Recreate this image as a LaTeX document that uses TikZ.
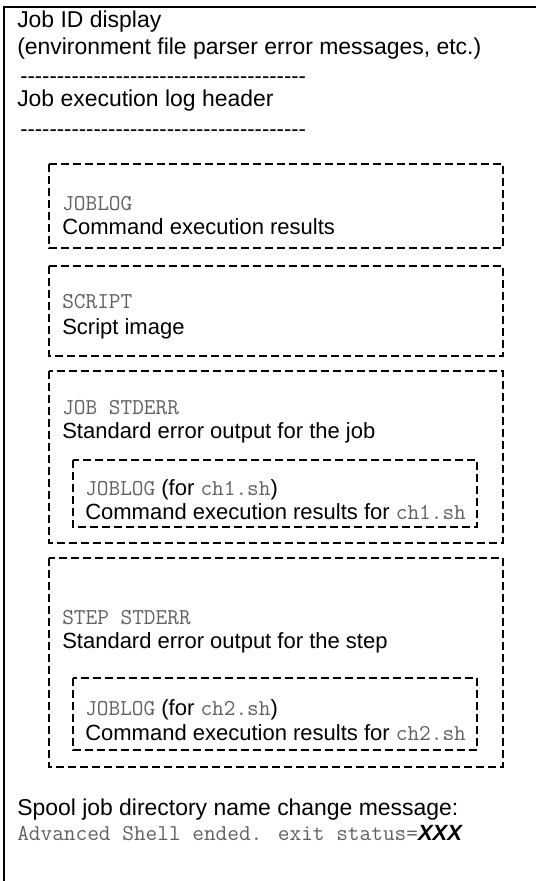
\documentclass[tikz,border=0pt]{standalone}
\usepackage{fontspec}
\setmainfont{Liberation Sans}
\newcommand{\cmdtxt}[1]{{\fontsize{17}{19}\ttfamily\color{black!62}#1}}
\newcommand{\hyphrule}{\foreach \i in {1,...,39}{-}}
\begin{document}
\begin{tikzpicture}[x=0.75pt, y=-0.75pt,
    txt/.style={anchor=base west, inner sep=0pt, font=\fontsize{16.5}{19}\selectfont},
    bigtxt/.style={txt, font=\fontsize{17.2}{20}\selectfont},
    dbox/.style={draw, line width=1.1pt, dash pattern=on 6pt off 3pt},
  ]
  \useasboundingbox (0,0) rectangle (536,881);
  % outer frame (only top and left are shown)
  \draw[line width=1.5pt] (4,881) -- (4,7) -- (536,7);

  % header
  \node[bigtxt] (jobid) at (17,28) {Job ID display};
  \node[bigtxt] (envmsg) at (17,55) {(environment file parser error messages, etc.)};
  \node[txt] (rule1) at (20,84) {\hyphrule};
  \node[bigtxt] (loghead) at (17,107) {Job execution log header};
  \node[txt] (rule2) at (20,136) {\hyphrule};

  % JOBLOG
  \draw[dbox] (49,164) rectangle (503,248);
  \node[txt] (joblog) at (62,210) {\cmdtxt{JOBLOG}};
  \node[txt] (joblogtxt) at (62,234) {Command execution results};

  % SCRIPT
  \draw[dbox] (49,266) rectangle (503,356);
  \node[txt] (script) at (62,308) {\cmdtxt{SCRIPT}};
  \node[txt] (scripttxt) at (62,334) {Script image};

  % JOB STDERR
  \draw[dbox] (49,371) rectangle (503,543);
  \node[txt] (jobstderr) at (62,414) {\cmdtxt{JOB STDERR}};
  \node[txt] (jobstderrtxt) at (62,438) {Standard error output for the job};
  \draw[dbox] (73,460) rectangle (477,527);
  \node[txt] (joblogA) at (85,495) {\cmdtxt{JOBLOG} (for \cmdtxt{ch1.sh})};
  \node[txt] (joblogAtxt) at (85,519) {Command execution results for \cmdtxt{ch1.sh}};

  % STEP STDERR
  \draw[dbox] (49,558) rectangle (503,767);
  \node[txt] (stepstderr) at (62,624) {\cmdtxt{STEP STDERR}};
  \node[txt] (stepstderrtxt) at (62,648) {Standard error output for the step};
  \draw[dbox] (73,678) rectangle (477,750);
  \node[txt] (joblogB) at (85,715) {\cmdtxt{JOBLOG} (for \cmdtxt{ch2.sh})};
  \node[txt] (joblogBtxt) at (85,740) {Command execution results for \cmdtxt{ch2.sh}};

  % spool message
  \node[bigtxt] (spool) at (17,815) {Spool job directory name change message:};
  \node[txt] (ended) at (17,840) {\cmdtxt{Advanced Shell ended. exit status=}\textit{\textbf{XXX}}};
\end{tikzpicture}
\end{document}
